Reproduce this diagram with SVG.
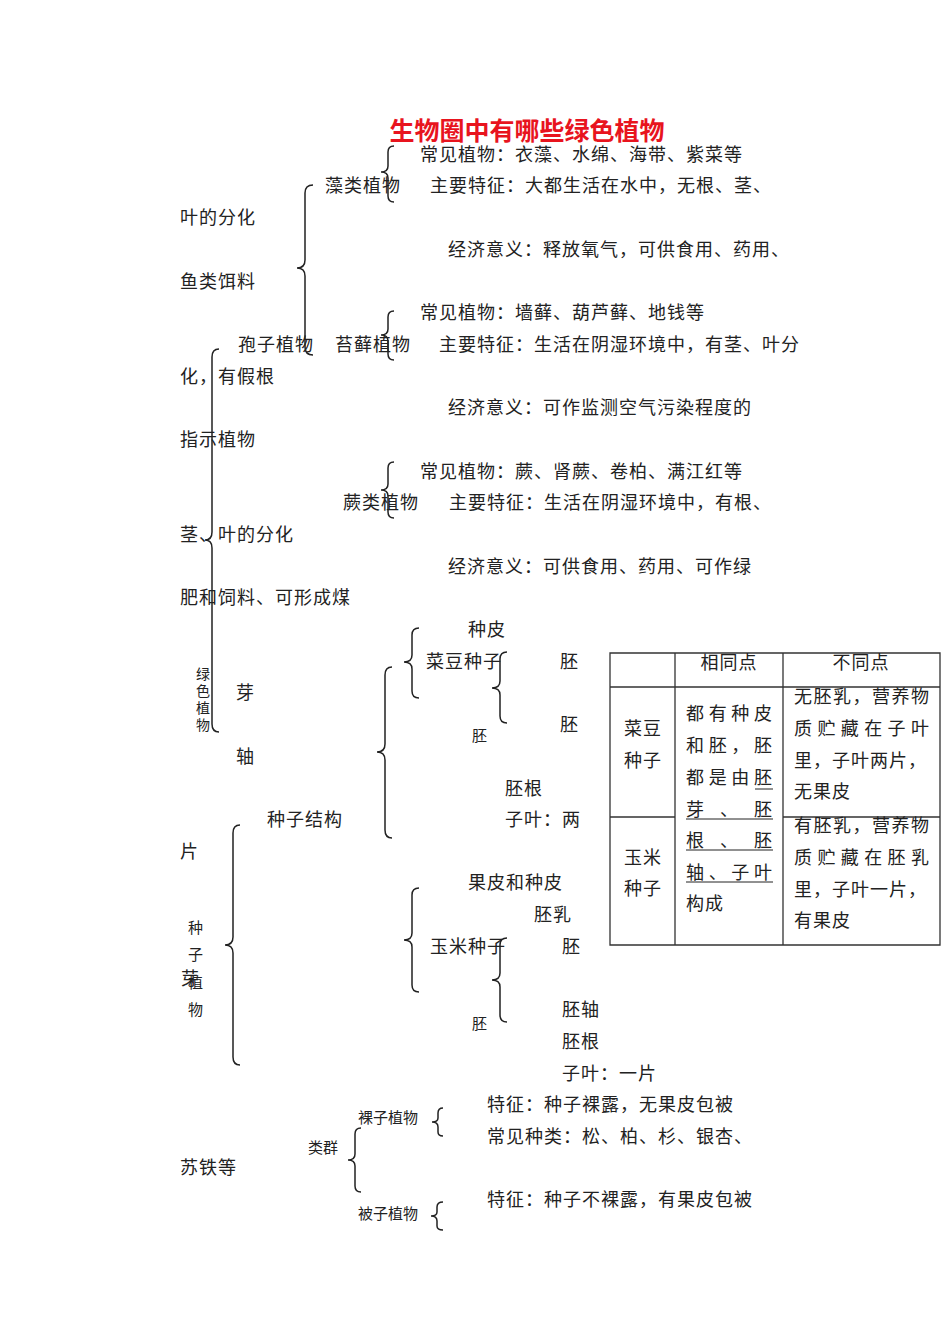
<svg xmlns="http://www.w3.org/2000/svg" width="950" height="1342" viewBox="0 0 950 1342">
<style>
text{font-family:"Noto Sans CJK SC","Liberation Serif",serif;font-size:18px;fill:#222;letter-spacing:1px}
.s{font-size:15px;letter-spacing:0}
.v{font-size:14px;letter-spacing:0}
.t{font-size:25px;font-weight:bold;fill:#e8141e;letter-spacing:0}
.b{fill:none;stroke:#222;stroke-width:1.5}
.g{fill:none;stroke:#333;stroke-width:1.3}
.u{stroke:#222;stroke-width:1}
</style>
<rect width="950" height="1342" fill="#fff"/>
<text class="t" x="527" y="140" text-anchor="middle">生物圈中有哪些绿色植物</text>
<g id="connectors">
<path class="b" d="M313,185 Q305,185 305,193 L305,260 Q305,268 297,268 Q305,268 305,276 L305,347 Q305,355 313,355"/>
<path class="b" d="M394,146 Q388,146 388,152 L388,166 Q388,172 381,172 Q388,172 388,178 L388,196 Q388,202 394,202"/>
<path class="b" d="M394,311 Q388,311 388,317 L388,329 Q388,335 381,335 Q388,335 388,341 L388,354 Q388,360 394,360"/>
<path class="b" d="M394,462 Q388,462 388,468 L388,484 Q388,490 381,490 Q388,490 388,496 L388,512 Q388,518 394,518"/>
<path class="b" d="M219,349 Q212,349 212,357 L212,532 Q212,540 205,540 Q212,540 212,548 L212,724 Q212,732 219,732"/>
<path class="b" d="M240,825 Q233,825 233,833 L233,937 Q233,945 225,945 Q233,945 233,953 L233,1057 Q233,1065 240,1065"/>
<path class="b" d="M392,667 Q385,667 385,675 L385,744 Q385,752 377,752 Q385,752 385,760 L385,830 Q385,838 392,838"/>
<path class="b" d="M419,628 Q412,628 412,635 L412,655 Q412,662 404,662 Q412,662 412,669 L412,691 Q412,698 419,698"/>
<path class="b" d="M507,652 Q500,652 500,659 L500,681 Q500,688 492,688 Q500,688 500,695 L500,716 Q500,723 507,723"/>
<path class="b" d="M419,888 Q412,888 412,895 L412,933 Q412,940 404,940 Q412,940 412,947 L412,985 Q412,992 419,992"/>
<path class="b" d="M507,938 Q500,938 500,945 L500,973 Q500,980 492,980 Q500,980 500,987 L500,1015 Q500,1022 507,1022"/>
<path class="b" d="M361,1128 Q355,1128 355,1134 L355,1154 Q355,1160 348,1160 Q355,1160 355,1166 L355,1186 Q355,1192 361,1192"/>
<path class="b" d="M443,1108 Q438,1108 438,1113 L438,1118 Q438,1122 432,1122 Q438,1122 438,1127 L438,1132 Q438,1136 443,1136"/>
<path class="b" d="M443,1202 Q437,1202 437,1207 L437,1212 Q437,1216 431,1216 Q437,1216 437,1221 L437,1226 Q437,1230 443,1230"/>
</g>
<g id="algae">
<text x="420" y="161">常见植物：衣藻、水绵、海带、紫菜等</text>
<text x="325" y="192">藻类植物</text>
<text x="430" y="192">主要特征：大都生活在水中，无根、茎、</text>
<text x="180" y="224">叶的分化</text>
<text x="448" y="256">经济意义：释放氧气，可供食用、药用、</text>
<text x="180" y="288">鱼类饵料</text>
</g>
<g id="moss">
<text x="420" y="319">常见植物：墙藓、葫芦藓、地钱等</text>
<text x="238" y="351">孢子植物</text>
<text x="335" y="351">苔藓植物</text>
<text x="439" y="351">主要特征：生活在阴湿环境中，有茎、叶分</text>
<text x="180" y="383">化，有假根</text>
<text x="448" y="414">经济意义：可作监测空气污染程度的</text>
<text x="180" y="446">指示植物</text>
</g>
<g id="fern">
<text x="420" y="478">常见植物：蕨、肾蕨、卷柏、满江红等</text>
<text x="343" y="509">蕨类植物</text>
<text x="449" y="509">主要特征：生活在阴湿环境中，有根、</text>
<text x="180" y="541">茎、叶的分化</text>
<text x="448" y="573">经济意义：可供食用、药用、可作绿</text>
<text x="180" y="604">肥和饲料、可形成煤</text>
</g>
<g id="green">
<text class="v" x="196" y="679">绿</text><text class="v" x="196" y="696">色</text><text class="v" x="196" y="713">植</text><text class="v" x="196" y="730">物</text>
<text x="236" y="699">芽</text>
<text x="236" y="763">轴</text>
<text x="180" y="858">片</text>
</g>
<g id="seed">
<text x="267" y="826">种子结构</text>
<text class="s" x="188" y="933">种</text><text class="s" x="188" y="960">子</text><text class="s" x="188" y="988">植</text><text x="181" y="985">芽</text><text class="s" x="188" y="1015">物</text>
</g>
<g id="bean">
<text x="468" y="636">种皮</text>
<text x="426" y="668">菜豆种子</text>
<text x="560" y="668">胚</text>
<text class="s" x="472" y="741">胚</text>
<text x="560" y="731">胚</text>
<text x="505" y="795">胚根</text>
<text x="505" y="826">子叶：两</text>
</g>
<g id="corn">
<text x="468" y="889">果皮和种皮</text>
<text x="534" y="921">胚乳</text>
<text x="430" y="953">玉米种子</text>
<text x="562" y="953">胚</text>
<text class="s" x="472" y="1029">胚</text>
<text x="562" y="1016">胚轴</text>
<text x="562" y="1048">胚根</text>
<text x="562" y="1080">子叶：一片</text>
</g>
<g id="table">
<path class="g" d="M610,653 H940 V945 H610 Z M675,653 V945 M783,653 V945 M610,687 H940 M610,817 H675 M783,817 H940"/>
<text x="729" y="669" text-anchor="middle">相同点</text>
<text x="861" y="669" text-anchor="middle">不同点</text>
<text x="624" y="735">菜豆</text><text x="624" y="767">种子</text>
<text x="624" y="864">玉米</text><text x="624" y="895">种子</text>
<text x="686" y="720" textLength="87">都有种皮</text>
<text x="686" y="752" textLength="87">和胚，胚</text>
<text x="686" y="784" textLength="87">都是由胚</text>
<text x="686" y="816" textLength="87">芽、胚</text>
<text x="686" y="847" textLength="87">根、胚</text>
<text x="686" y="879" textLength="87">轴、子叶</text>
<text x="686" y="910">构成</text>
<path class="u" d="M755,789 H773 M686,819 H773 M686,850 H773 M686,882 H773"/>
<text x="794" y="703" textLength="136">无胚乳，营养物</text>
<text x="794" y="735" textLength="136">质贮藏在子叶</text>
<text x="794" y="767">里，子叶两片，</text>
<text x="794" y="798">无果皮</text>
<text x="794" y="832" textLength="136">有胚乳，营养物</text>
<text x="794" y="864" textLength="136">质贮藏在胚乳</text>
<text x="794" y="896">里，子叶一片，</text>
<text x="794" y="927">有果皮</text>
</g>
<g id="gymno">
<text class="s" x="358" y="1123">裸子植物</text>
<text x="487" y="1111">特征：种子裸露，无果皮包被</text>
<text x="487" y="1143">常见种类：松、柏、杉、银杏、</text>
<text x="180" y="1174">苏铁等</text>
<text class="s" x="308" y="1153">类群</text>
</g>
<g id="angio">
<text class="s" x="358" y="1219">被子植物</text>
<text x="487" y="1206">特征：种子不裸露，有果皮包被</text>
</g>
</svg>
